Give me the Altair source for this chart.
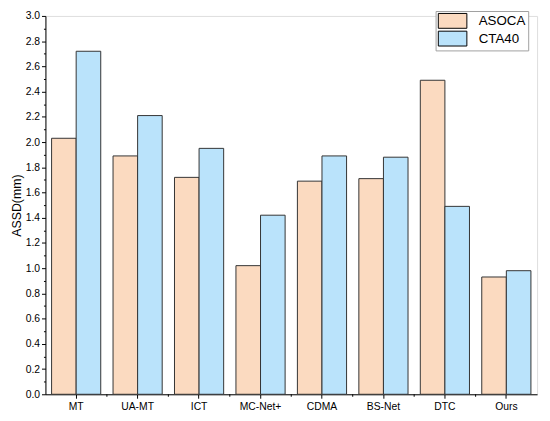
import altair as alt
import pandas as pd

methods = ["MT", "UA-MT", "ICT", "MC-Net+", "CDMA", "BS-Net", "DTC", "Ours"]
asoca = [2.03, 1.89, 1.72, 1.02, 1.69, 1.71, 2.49, 0.93]
cta40 = [2.72, 2.21, 1.95, 1.42, 1.89, 1.88, 1.49, 0.98]
datasets = ["ASOCA", "CTA40"]
colors = ["#FBDAC0", "#BAE3FB"]
yticks = [round(i * 0.1, 1) for i in range(31)]

rows = []
for m, a, c in zip(methods, asoca, cta40):
    rows.append({"method": m, "dataset": "ASOCA", "assd": a})
    rows.append({"method": m, "dataset": "CTA40", "assd": c})
df = pd.DataFrame(rows)
bounds = pd.DataFrame({"method": methods[1:]})

FONT = "Liberation Sans"
H = 384
W = 499

xscale = alt.Scale(domain=methods, paddingInner=0.2, paddingOuter=0.1)

bars = alt.Chart(df).mark_bar(stroke="#333333", strokeWidth=1, opacity=1).encode(
    x=alt.X("method:N", scale=xscale, sort=methods, title=None,
            axis=alt.Axis(labelAngle=0, labelFont=FONT, labelFontSize=10.5, labelColor="#000000",
                          tickSize=4, tickColor="#000000", domainColor="#000000",
                          labelPadding=3, grid=False)),
    xOffset=alt.XOffset("dataset:N", sort=datasets,
                        scale=alt.Scale(paddingInner=0, paddingOuter=0)),
    y=alt.Y("assd:Q", scale=alt.Scale(domain=[0, 3], nice=False), title="ASSD(mm)",
            axis=alt.Axis(values=yticks, grid=False,
                          labelExpr="round(datum.value*10) % 2 == 0 ? format(datum.value, '.1f') : ''",
                          tickSize={"condition": {"test": "round(datum.value*10) % 2 == 1", "value": 2}, "value": 4},
                          labelFont=FONT, labelFontSize=10.5, labelColor="#000000",
                          tickColor="#000000", domainColor="#000000", labelPadding=2,
                          titleFont=FONT, titleFontSize=12.5, titleFontWeight="normal",
                          titleColor="#000000", titlePadding=2)),
    color=alt.Color("dataset:N", scale=alt.Scale(domain=datasets, range=colors),
                    legend=alt.Legend(title=None, orient="none", legendX=396, legendY=-5,
                                      symbolType="M-2,-1.04H2V1.04H-2Z", symbolSize=210,
                                      symbolOffset=7.25,
                                      symbolStrokeColor="#000000", symbolStrokeWidth=1,
                                      symbolOpacity=1, labelFont=FONT, labelFontSize=13.5,
                                      labelColor="#000000", strokeColor="#a0a0a0",
                                      fillColor="#ffffff", padding=2, rowPadding=-3,
                                      labelOffset=18.5)),
)

minor = alt.Chart(bounds).mark_rule(color="#000000", strokeWidth=1, xOffset=-6.24).encode(
    x=alt.X("method:N", scale=xscale, sort=methods, bandPosition=0),
    y=alt.value(H),
    y2=alt.value(H + 2.5),
)

chart = alt.layer(bars, minor).properties(
    width=W, height=H,
    autosize=alt.AutoSizeParams(type="none"),
    padding={"left": 38, "top": 5, "right": 5, "bottom": 20},
).configure_view(stroke=None).configure(background="#ffffff")

chart.save("out.html", embed_options={"renderer": "svg", "actions": False})
